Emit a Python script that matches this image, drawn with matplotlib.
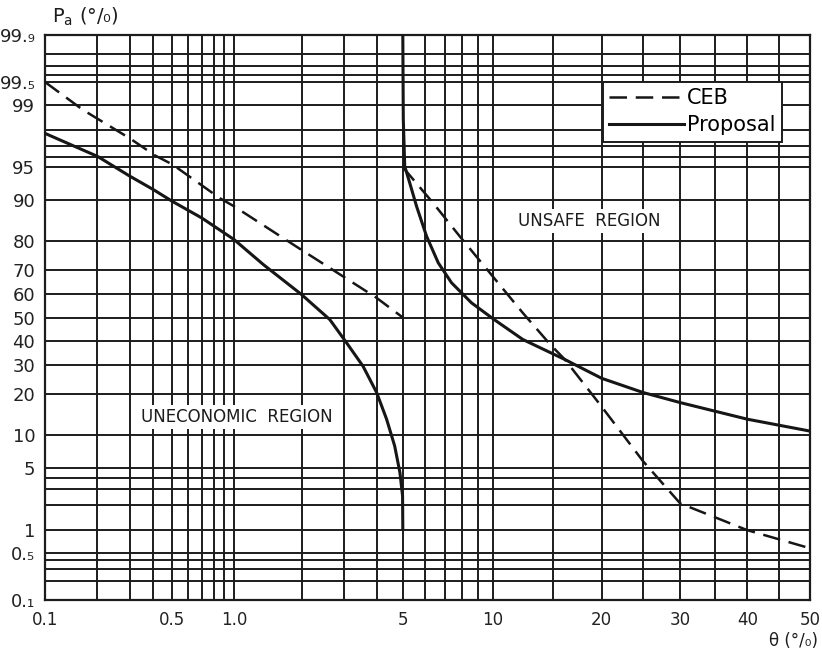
import math
import numpy as np
import matplotlib
matplotlib.use("Agg")
import matplotlib.pyplot as plt

# ---------------- data ----------------
ceb_left_theta = [0.1, 0.166, 0.3, 0.406, 0.5, 0.857, 1.0, 2.0, 3.0, 4.0, 5.0]
ceb_left_pa = [99.5, 98.84, 97.5, 96.2, 95.3, 90.4, 88.8, 77.0, 67.0, 58.5, 50.0]

ceb_right_theta = [5.0, 6.39, 7.85, 9.8, 12.3, 14.7, 16.1, 19.8, 25.0, 30.0, 40.0, 50.0]
ceb_right_pa = [95.0, 89.5, 81.3, 68.7, 52.0, 38.4, 32.3, 17.1, 5.8, 2.1, 1.0, 0.58]

prop_left_theta = [0.1, 0.2, 0.3, 0.4, 0.5, 0.7, 1.0, 1.36, 2.0, 2.62, 3.06, 3.55,
                   4.0, 4.36, 4.67, 4.88, 4.99, 5.0]
prop_left_pa = [97.8, 96.1, 93.9, 91.9, 89.8, 86.2, 80.3, 71.9, 59.9, 49.1, 39.1, 29.7,
                20.6, 13.3, 8.0, 4.5, 2.55, 1.04]

prop_right_theta = [5.0, 5.02, 5.08, 5.3, 5.6, 6.07, 6.66, 7.38, 8.57, 10.1, 12.3, 16.1,
                    20.0, 25.0, 30.0, 40.0, 50.0]
prop_right_pa = [99.9, 98.5, 95.1, 92.9, 88.8, 81.3, 72.5, 64.8, 56.4, 49.1, 40.5, 32.3,
                 25.3, 20.6, 17.6, 13.3, 10.7]

x_major = [0.1, 0.5, 1.0, 5, 10, 20, 30, 40, 50]
x_major_labels = ["0.1", "0.5", "1.0", "5", "10", "20", "30", "40", "50"]
x_minor = [0.2, 0.3, 0.4, 0.6, 0.7, 0.8, 0.9, 2, 3, 4, 6, 7, 8, 9, 15, 25, 35, 45]

y_major = [0.1, 0.5, 1, 5, 10, 20, 30, 40, 50, 60, 70, 80, 90, 95, 99, 99.5, 99.9]
y_major_labels = ["0.₁", "0.₅", "1", "5", "10", "20", "30", "40", "50", "60",
                  "70", "80", "90", "95", "99", "99.₅", "99.₉"]
y_minor = [0.2, 0.3, 0.4, 2, 3, 4, 96, 97, 98, 99.6, 99.7, 99.8]

# ---------------- normal-probability (probit) scale ----------------
_a = [-3.969683028665376e+01, 2.209460984245205e+02, -2.759285104469687e+02,
      1.383577518672690e+02, -3.066479806614716e+01, 2.506628277459239e+00]
_b = [-5.447609879822406e+01, 1.615858368580409e+02, -1.556989798598866e+02,
      6.680131188771972e+01, -1.328068155288572e+01]
_c = [-7.784894002430293e-03, -3.223964580411365e-01, -2.400758277161838e+00,
      -2.549732539343734e+00, 4.374664141464968e+00, 2.938163982698783e+00]
_d = [7.784695709041462e-03, 3.224671290700398e-01, 2.445134137142996e+00,
      3.754408661907416e+00]


def probit(pct):
    p = np.clip(np.asarray(pct, dtype=float) / 100.0, 1e-9, 1 - 1e-9)
    plow = 0.02425
    out = np.empty_like(p)
    lo = p < plow
    hi = p > 1 - plow
    mid = ~(lo | hi)
    q = np.sqrt(-2 * np.log(p[lo]))
    out[lo] = (((((_c[0]*q+_c[1])*q+_c[2])*q+_c[3])*q+_c[4])*q+_c[5]) / \
              ((((_d[0]*q+_d[1])*q+_d[2])*q+_d[3])*q+1)
    q = np.sqrt(-2 * np.log(1 - p[hi]))
    out[hi] = -(((((_c[0]*q+_c[1])*q+_c[2])*q+_c[3])*q+_c[4])*q+_c[5]) / \
               ((((_d[0]*q+_d[1])*q+_d[2])*q+_d[3])*q+1)
    q = p[mid] - 0.5
    r = q * q
    out[mid] = (((((_a[0]*r+_a[1])*r+_a[2])*r+_a[3])*r+_a[4])*r+_a[5])*q / \
               (((((_b[0]*r+_b[1])*r+_b[2])*r+_b[3])*r+_b[4])*r+1)
    return out


_erf = np.vectorize(math.erf)


def inv_probit(z):
    z = np.asarray(z, dtype=float)
    return 100.0 * 0.5 * (1.0 + _erf(z / math.sqrt(2.0)))


# ---------------- figure ----------------
plt.rcParams['font.family'] = ['DejaVu Sans']
fig = plt.figure(figsize=(8.22, 6.52), dpi=100)
ax = fig.add_axes([45/822, 1-600/652, 765/822, 565/652])

ax.set_xscale('function', functions=(probit, inv_probit))
ax.set_yscale('function', functions=(probit, inv_probit))
ax.set_xlim(0.1, 50)
ax.set_ylim(0.1, 99.9)

ax.set_xticks(x_major)
ax.set_xticklabels(x_major_labels)
ax.set_xticks(x_minor, minor=True)
ax.set_yticks(y_major)
ax.set_yticklabels(y_major_labels)
ax.set_yticks(y_minor, minor=True)
ax.tick_params(which='both', length=0)
ax.tick_params(axis='x', labelsize=12, pad=8, colors='#222222')
ax.tick_params(axis='y', labelsize=13, pad=7, colors='#222222')

grid_kw = dict(color='#1c1c1c', linewidth=1.4)
ax.grid(True, which='both', **grid_kw)
ax.set_axisbelow(True)
for s in ax.spines.values():
    s.set_linewidth(1.6)
    s.set_color('#1c1c1c')

line_col = '#161616'
ax.plot(ceb_left_theta, ceb_left_pa, color=line_col, lw=1.8,
        dashes=(7, 3.5), label='CEB', zorder=3)
ax.plot(ceb_right_theta, ceb_right_pa, color=line_col, lw=1.8,
        dashes=(7, 3.5), zorder=3)
ax.plot(prop_left_theta, prop_left_pa, color=line_col, lw=2.2,
        label='Proposal', zorder=3, solid_joinstyle='round')
ax.plot(prop_right_theta, prop_right_pa, color=line_col, lw=2.2, zorder=3,
        solid_joinstyle='round')

txt_box = dict(facecolor='white', edgecolor='none', pad=2)
ax.text(0.251, 0.324, "UNECONOMIC  REGION", transform=ax.transAxes,
        ha='center', va='center', fontsize=12, color='#1c1c1c',
        bbox=txt_box, zorder=4)
ax.text(0.712, 0.671, "UNSAFE  REGION", transform=ax.transAxes,
        ha='center', va='center', fontsize=12, color='#1c1c1c',
        bbox=txt_box, zorder=4)

leg = ax.legend(loc='upper left', bbox_to_anchor=(0.729, 0.917),
                borderaxespad=0, fontsize=15, handlelength=3.6,
                handletextpad=0.15, labelspacing=0.35, borderpad=0.3,
                fancybox=False, framealpha=1, edgecolor='#1c1c1c')
leg.get_frame().set_linewidth(1.4)
leg.set_zorder(5)

fig.text(52/822, 1-17/652, r"$\mathregular{P_a}$ (°/₀)", fontsize=14,
         ha='left', va='center', color='#1c1c1c')
fig.text(818/822, 1-641/652, "θ (°/₀)", fontsize=12,
         ha='right', va='center', color='#1c1c1c')

fig.savefig("out.png", dpi=100, facecolor='white')
